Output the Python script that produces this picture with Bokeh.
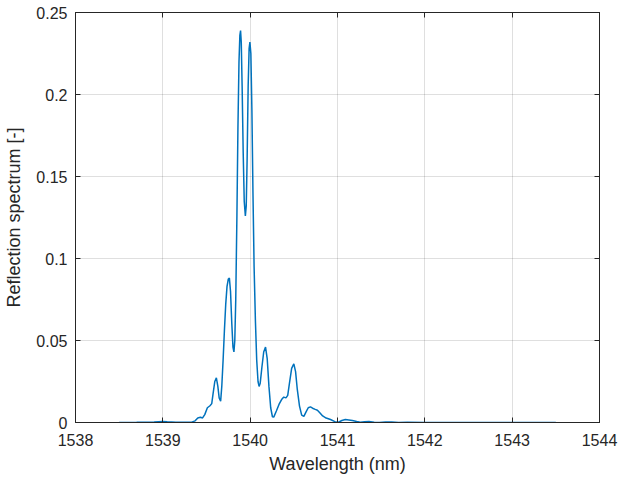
from bokeh.plotting import figure
from bokeh.models import Range1d, FixedTicker, LinearAxis
from bokeh.embed import file_html
from bokeh.resources import INLINE

# Reflection spectrum of the grating, wavelength in nm
wavelength = [
    1538.50, 1538.70, 1538.90, 1539.00, 1539.05, 1539.15, 1539.25, 1539.33,
    1539.37, 1539.40, 1539.43, 1539.455, 1539.48, 1539.51, 1539.54, 1539.56,
    1539.575, 1539.595, 1539.613, 1539.630, 1539.645, 1539.662, 1539.675,
    1539.690, 1539.705, 1539.720, 1539.735, 1539.750, 1539.762, 1539.775,
    1539.790, 1539.803, 1539.814, 1539.824, 1539.835, 1539.848, 1539.860,
    1539.872, 1539.882, 1539.890, 1539.898, 1539.908, 1539.920, 1539.932,
    1539.945, 1539.955, 1539.965, 1539.977, 1539.988, 1539.997, 1540.008,
    1540.020, 1540.032, 1540.045, 1540.060, 1540.075, 1540.090, 1540.102,
    1540.115, 1540.135, 1540.155, 1540.176, 1540.195, 1540.215, 1540.235,
    1540.255, 1540.270, 1540.300, 1540.330, 1540.360, 1540.385, 1540.410,
    1540.430, 1540.450, 1540.475, 1540.500, 1540.520, 1540.540, 1540.565,
    1540.590, 1540.615, 1540.640, 1540.665, 1540.690, 1540.715, 1540.745,
    1540.770, 1540.800, 1540.830, 1540.870, 1540.920, 1540.970, 1541.005,
    1541.05, 1541.09, 1541.13, 1541.17, 1541.22, 1541.26, 1541.31, 1541.36,
    1541.42, 1541.48, 1541.55, 1541.62, 1541.70, 1541.80, 1542.00, 1543.50,
]
reflection = [
    0.0, 0.0001, 0.0003, 0.0006, 0.0004, 0.0002, 0.0001, 0.0002,
    0.0010, 0.0028, 0.0032, 0.0028, 0.0048, 0.0090, 0.0102, 0.0115,
    0.0175, 0.0250, 0.0272, 0.0220, 0.0150, 0.0130, 0.0220,
    0.0380, 0.0560, 0.0720, 0.0830, 0.0875, 0.0880, 0.0800,
    0.0600, 0.0460, 0.0430, 0.0500, 0.0750, 0.1250, 0.1800,
    0.2200, 0.2360, 0.2390, 0.2320, 0.2050, 0.1650, 0.1350,
    0.1260, 0.1320, 0.1600, 0.2050, 0.2280, 0.2320, 0.2250,
    0.1900, 0.1400, 0.0950, 0.0620, 0.0380, 0.0250, 0.0220,
    0.0240, 0.0340, 0.0430, 0.0460, 0.0390, 0.0220, 0.0090,
    0.0035, 0.0033, 0.0070, 0.0110, 0.0140, 0.0155, 0.0150,
    0.0165, 0.0240, 0.0330, 0.0358, 0.0310, 0.0200, 0.0100,
    0.0045, 0.0037, 0.0065, 0.0090, 0.0095, 0.0087, 0.0080,
    0.0075, 0.0058, 0.0040, 0.0027, 0.0018, 0.0005, 0.0,
    0.0012, 0.0018, 0.0015, 0.0012, 0.0006, 0.0002, 0.0005, 0.0006,
    0.0002, 0.0, 0.0003, 0.0003, 0.0, 0.0001, 0.0, 0.0,
]

x_ticks = [1538, 1539, 1540, 1541, 1542, 1543, 1544]
y_ticks = [0, 0.05, 0.1, 0.15, 0.2, 0.25]
y_tick_labels = ["0", "0.05", "0.1", "0.15", "0.2", "0.25"]

FONT = "Liberation Sans"
DARK = "#262626"

p = figure(
    width=619, height=481,
    x_range=Range1d(1538, 1544), y_range=Range1d(0, 0.25),
    output_backend="svg", toolbar_location=None,
    min_border_left=75, min_border_right=20,
    min_border_top=12, min_border_bottom=59,
)
p.background_fill_color = "white"
p.border_fill_color = "white"
p.outline_line_color = DARK
p.outline_line_width = 1

p.line(wavelength, reflection, line_color="#0072BD", line_width=1.5)

p.xaxis.ticker = FixedTicker(ticks=x_ticks)
p.yaxis.ticker = FixedTicker(ticks=y_ticks)
p.yaxis.major_label_overrides = {t: s for t, s in zip(y_ticks, y_tick_labels)}

for ax in (p.xaxis[0], p.yaxis[0]):
    ax.major_tick_in = 5
    ax.major_tick_out = 0
    ax.minor_tick_in = 0
    ax.minor_tick_out = 0
    ax.axis_line_color = DARK
    ax.major_tick_line_color = DARK
    ax.major_label_text_font = FONT
    ax.major_label_text_font_size = "16px"
    ax.major_label_text_color = DARK
    ax.axis_label_text_font = FONT
    ax.axis_label_text_font_size = "18px"
    ax.axis_label_text_font_style = "normal"
    ax.axis_label_text_color = DARK

p.xaxis.axis_label = "Wavelength (nm)"
p.yaxis.axis_label = "Reflection spectrum [-]"
p.xaxis.major_label_standoff = 11
p.xaxis.axis_label_standoff = 5
p.yaxis.major_label_standoff = 8
p.yaxis.axis_label_standoff = 9

# tick marks on the top and right edges of the box, without labels
top = LinearAxis(ticker=FixedTicker(ticks=x_ticks))
right = LinearAxis(ticker=FixedTicker(ticks=y_ticks))
for ax in (top, right):
    ax.major_tick_in = 5
    ax.major_tick_out = 0
    ax.minor_tick_in = 0
    ax.minor_tick_out = 0
    ax.axis_line_color = DARK
    ax.major_tick_line_color = DARK
    ax.major_label_text_color = None
    ax.major_label_text_font_size = "1px"
    ax.major_label_standoff = 0
p.add_layout(top, "above")
p.add_layout(right, "right")

p.xgrid.ticker = FixedTicker(ticks=x_ticks)
p.ygrid.ticker = FixedTicker(ticks=y_ticks)
p.grid.grid_line_color = DARK
p.grid.grid_line_alpha = 0.15
p.grid.grid_line_width = 1

open("out.html", "w").write(file_html(p, INLINE))
